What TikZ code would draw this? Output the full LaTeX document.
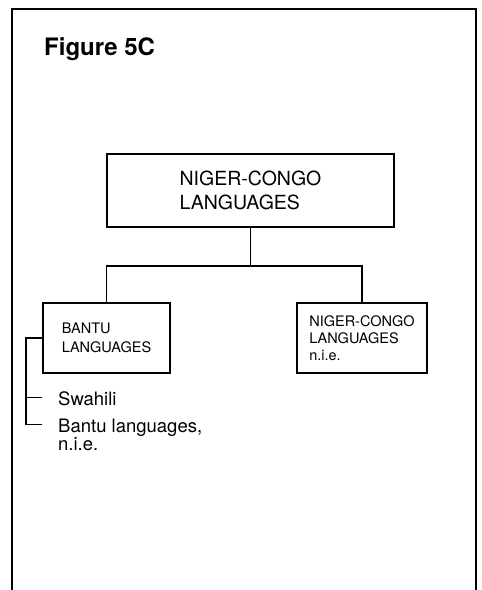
\documentclass[tikz,border=0pt]{standalone}
\usepackage{fontspec}
\setmainfont{TeX Gyre Heros}
\usetikzlibrary{calc}
\begin{document}
\begin{tikzpicture}[x=1pt,y=1pt,
  frame/.style={line width=2pt},
  box/.style={draw,line width=1.7pt,align=left,inner sep=0pt},
  link/.style={line width=1.7pt},
  item/.style={anchor=base west,inner sep=0pt,font=\fontsize{18.5}{22}\selectfont}]
\useasboundingbox (0,0) rectangle (482,-590);
% open frame
\draw[frame] (12,-590) -- (12,-9) -- (476,-9) -- (476,-590);
\node[anchor=base west,inner sep=0pt,font=\fontsize{24}{28}\selectfont\bfseries] (title) at (44,-55) {Figure 5C};
% boxes
\node[box,minimum width=287pt,minimum height=73pt,font=\fontsize{19.5}{24}\selectfont] (top) at (250.5,-190.5) {NIGER-CONGO\\LANGUAGES};
\node[box,minimum width=127pt,minimum height=70pt,font=\fontsize{14.5}{19}\selectfont] (bantu) at (106.5,-338) {BANTU\\LANGUAGES};
\node[box,minimum width=130pt,minimum height=70pt,font=\fontsize{14.5}{17}\selectfont] (nc) at (362,-338) {NIGER-CONGO\\LANGUAGES\\n.i.e.};
% tree connectors
\coordinate (bus) at ($(top.south)+(0,-38)$);
\draw[link] (top.south) -- (bus);
\draw[link] (bantu.north) |- (bus) -| (nc.north);
% list under the Bantu box
\node[item] (sw) at (58,-405) {Swahili};
\node[item] (bl) at (58,-432) {Bantu languages,};
\node[item] (nie) at ([yshift=-18.5pt]bl.base west) {n.i.e.};
\coordinate (swt) at ([xshift=-16pt,yshift=7.5pt]sw.base west);
\coordinate (blt) at ([xshift=-16pt,yshift=7.5pt]bl.base west);
\draw[link] (bantu.west) -- ++(-16pt,0) |- (blt);
\draw[link] (swt -| {$(bantu.west)+(-16pt,0)$}) -- (swt);
\end{tikzpicture}
\end{document}
